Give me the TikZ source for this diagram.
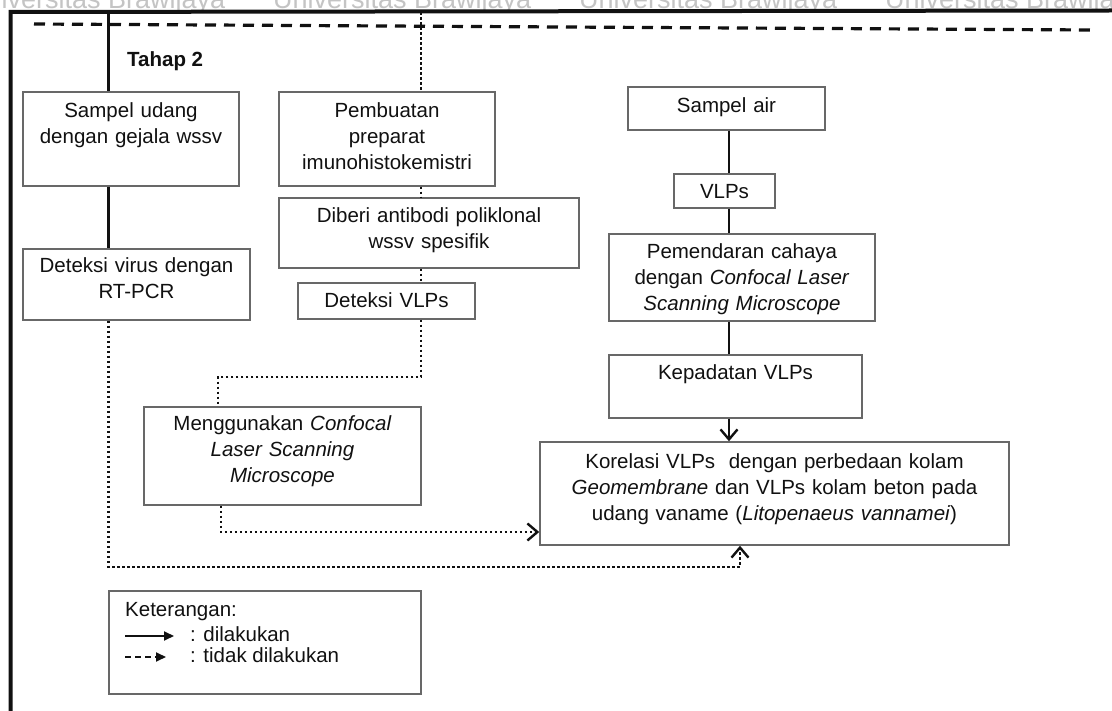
\documentclass[tikz,border=0pt]{standalone}
\usepackage{fontspec}
\setmainfont{Liberation Sans}
\usetikzlibrary{arrows.meta,fit}
\definecolor{boxgray}{HTML}{686868}
\definecolor{ink}{HTML}{111111}
\definecolor{wmgray}{HTML}{C4C4C4}

% a framed step: name, then the two opposite corners
\newcommand\flowbox[5]{\node[box, fit={(#2,#3) (#4,#5)}] (#1) {};}

\begin{document}
\begin{tikzpicture}[x=1pt, y=-1pt,
  box/.style={draw=boxgray, line width=1.5pt, inner sep=0pt, rectangle},
  txt/.style={font=\fontsize{20.5}{26}\selectfont, text=ink, align=center,
              text width=#1, anchor=base, inner sep=0pt},
  txt/.default=460pt,
  lbl/.style={font=\fontsize{20.5}{26}\selectfont, text=ink, inner sep=0pt, anchor=base west},
  wm/.style={font=\fontsize{27}{27}\selectfont, text=wmgray, inner sep=0pt, anchor=base west},
  link/.style={draw=ink, line width=2.6pt},
  dotlink/.style={draw=ink, line width=2.6pt, dash pattern=on 2.6pt off 2.4pt},
  barb/.style={-{Straight Barb[length=10pt,width=17pt,line width=2.4pt]}},
  keytip/.style={-{Triangle[length=10pt,width=9pt]}}
]
\useasboundingbox (0,0) rectangle (1112,711);
\fill[white] (0,0) rectangle (1112,711);

% watermark strip above the page frame
\begin{scope}
  \clip (0,0) rectangle (1112,12);
  \foreach \k in {0,...,3}
    \node[wm] (wm\k) at (-33+306*\k, 9) {Universitas Brawijaya};
\end{scope}

% page frame and the stage separator
\draw[line width=4pt, ink] (10.5,711) -- (10.5,12) -- (1112,10.5);
\draw[line width=3.2pt, ink, dash pattern=on 11pt off 8pt] (34,24) -- (1091,30);

\node[lbl, font=\fontsize{20.5}{26}\selectfont\bfseries] (stage) at (127,67) {Tahap 2};

% left column
\flowbox{su}{23}{92}{239}{186}
\node[txt] (suT) at (su.center |- 0,118) {Sampel udang\\dengan gejala wssv};
\flowbox{dv}{23}{249}{250}{320}
\node[txt] (dvT) at (dv.center |- 0,273) {Deteksi virus dengan\\RT-PCR};

% middle column
\flowbox{pb}{279}{92}{495}{186}
\node[txt] (pbT) at (pb.center |- 0,118) {Pembuatan\\preparat\\imunohistokemistri};
\flowbox{db}{279}{198}{579}{268}
\node[txt] (dbT) at (db.center |- 0,223) {Diberi antibodi poliklonal\\wssv spesifik};
\flowbox{dl}{298}{283}{475}{319}
\node[txt] (dlT) at (dl.center |- 0,308) {Deteksi VLPs};
\flowbox{mg}{144}{407}{421}{505}
\node[txt] (mgT) at (mg.center |- 0,431) {Menggunakan \textit{Confocal}\\\textit{Laser Scanning}\\\textit{Microscope}};

% right column
\flowbox{sa}{628}{87}{825}{130}
\node[txt] (saT) at (sa.center |- 0,113) {Sampel air};
\flowbox{vl}{674}{174}{775}{208}
\node[txt] (vlT) at (vl.center |- 0,199) {VLPs};
\flowbox{pm}{609}{234}{875}{321}
\node[txt] (pmT) at (pm.center |- 0,259) {Pemendaran cahaya\\dengan \textit{Confocal Laser}\\\textit{Scanning Microscope}};
\flowbox{kp}{609}{355}{862}{418}
\node[txt] (kpT) at (kp.center |- 0,380) {Kepadatan VLPs};
\flowbox{kr}{540}{442}{1009}{545}
\node[txt] (krT) at (kr.center |- 0,468) {Korelasi VLPs~ dengan perbedaan kolam\\\textit{Geomembrane} dan VLPs kolam beton pada\\udang vaname (\textit{Litopenaeus vannamei})};

% connectors
\coordinate (topA) at (108.5,12);
\coordinate (topB) at (421,12);
\coordinate (colC) at (729,0);
\draw[link] (topA) -- (topA |- su.north);
\draw[link] (topA |- su.south) -- (topA |- dv.north);
\draw[dotlink] (topB) -- (topB |- pb.north);
\draw[dotlink] (topB |- pb.south) -- (topB |- db.north);
\draw[dotlink] (topB |- db.south) -- (topB |- dl.north);
\coordinate (bendA) at (421,377);
\coordinate (bendB) at (218,377);
\draw[dotlink] (topB |- dl.south) -- (bendA) -- (bendB) -- (bendB |- mg.north);
\coordinate (bendC) at (221,532);
\draw[dotlink, barb] (bendC |- mg.south) -- (bendC) -- (kr.west |- bendC);
\coordinate (bendD) at (108.5,567);
\coordinate (bendE) at (740,567);
\draw[dotlink, barb] (topA |- dv.south) -- (bendD) -- (bendE) -- (bendE |- kr.south);
\draw[link] (colC |- sa.south) -- (colC |- vl.north);
\draw[link] (colC |- vl.south) -- (colC |- pm.north);
\draw[link] (colC |- pm.south) -- (colC |- kp.north);
\draw[link, barb] (colC |- kp.south) -- (colC |- kr.north);

% key
\flowbox{lg}{109}{591}{421}{694}
\node[lbl] (lgH) at (125,616) {Keterangan:};
\coordinate (ka) at (125,636);
\coordinate (kb) at (174,636);
\draw[ink, line width=2pt, keytip] (ka) -- (kb);
\node[lbl] (lgA) at (190,641) {: dilakukan};
\coordinate (kc) at (125,657);
\coordinate (kd) at (166,657);
\draw[ink, line width=2pt, dash pattern=on 6pt off 4pt, keytip] (kc) -- (kd);
\node[lbl] (lgB) at (190,662) {: tidak dilakukan};
\end{tikzpicture}
\end{document}
